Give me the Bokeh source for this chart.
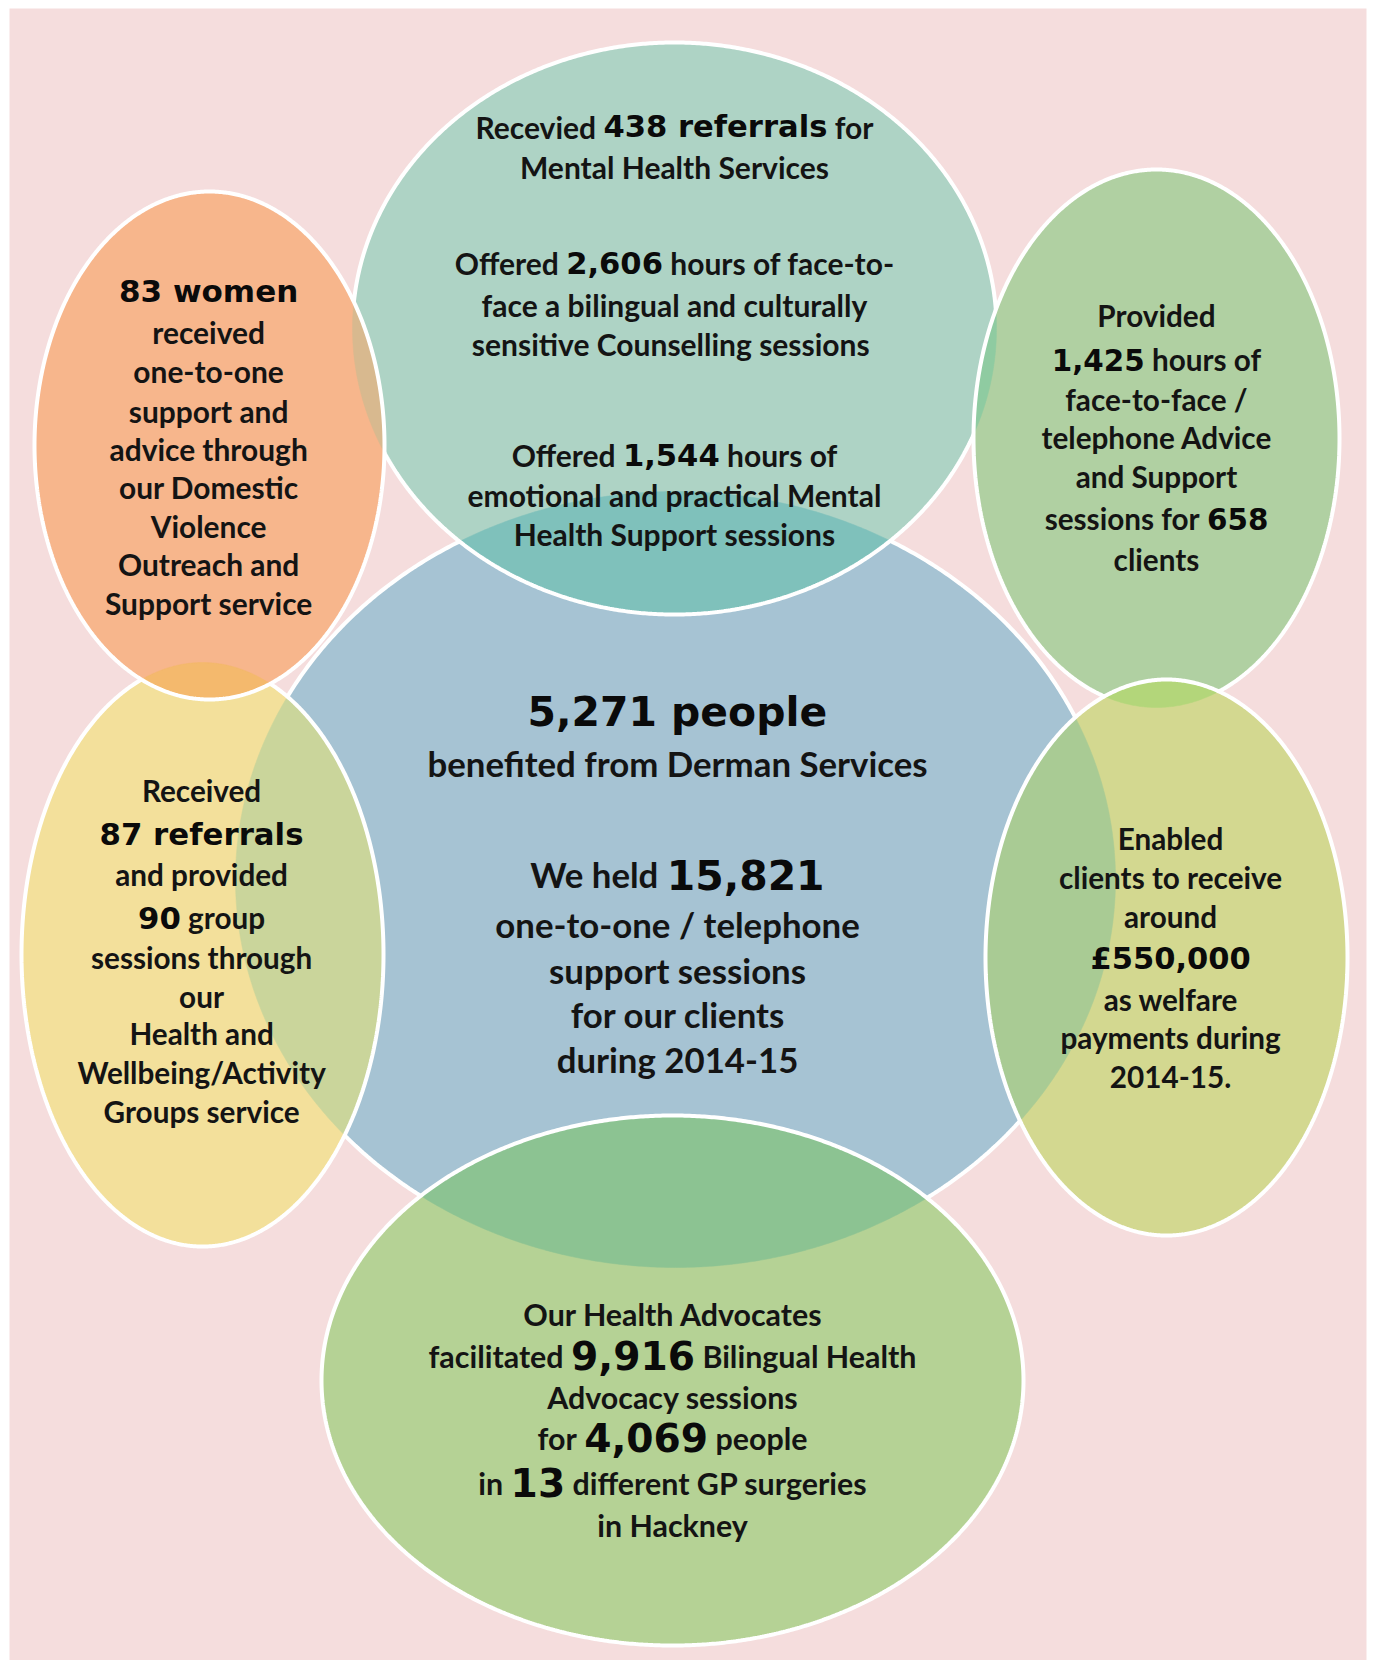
import subprocess
import numpy as np
from bokeh.plotting import figure
from bokeh.models import ColumnDataSource, Range1d
from bokeh.core.properties import value
from bokeh.embed import file_html
from bokeh.resources import INLINE

# ---------------- content (texts of each bubble) ----------------
TEAL_LINES = ["Recevied **438 referrals** for", "Mental Health Services",
              "Offered **2,606** hours of face-to-", "face a bilingual and culturally",
              "sensitive Counselling  sessions", "Offered **1,544** hours of",
              "emotional and practical Mental", "Health Support sessions"]
ORANGE_LINES = ["**83 women**", "received", "one-to-one", "support and", "advice through",
                "our Domestic", "Violence", "Outreach and", "Support service"]
RTGREEN_LINES = ["Provided", "**1,425** hours of", "face-to-face /", "telephone Advice",
                 "and Support", "sessions for **658**", "clients"]
BLUE_LINES = ["**5,271 people**", "benefited from Derman Services", "We held **15,821**",
              "one-to-one / telephone", "support sessions", "for our clients", "during 2014-15"]
YELLOW_LINES = ["Received", "**87 referrals**", "and provided", "**90** group", "sessions through",
                "our", "Health and", "Wellbeing/Activity", "Groups service"]
LIME_LINES = ["Enabled", "clients to receive", "around", "**£550,000**", "as welfare",
              "payments during", "2014-15."]
BGREEN_LINES = ["Our Health Advocates", "facilitated **9,916** Bilingual Health", "Advocacy sessions",
                "for **4,069** people", "in **13** different GP surgeries", "in Hackney"]

# ---------------- layout ----------------
W, H = 1375, 1660
X0, X1, Y0, Y1 = 0, W, 0, H
BG_PINK = "#f5dddd"

# ellipses: name -> (cx, cy, rx, ry, colour) in page pixels
ELL = {
    "blue":    (675, 879, 440, 388, "#a6c3d3"),
    "teal":    (674, 328, 322, 286, "#aed3c5"),
    "rtgreen": (1156, 438, 183, 269, "#b0d0a2"),
    "yellow":  (202, 954, 181, 292, "#f3e09b"),
    "orange":  (209, 445, 175, 254, "#f7b68c"),
    "lime":    (1166, 957, 181, 278, "#d3d890"),
    "bgreen":  (672, 1380, 351, 265, "#b5d295"),
}
ORDER = ["blue", "teal", "rtgreen", "yellow", "orange", "lime", "bgreen"]
OVERLAPS = {  # upper -> list of (lower, colour)
    "teal": [("blue", "#7fc1bb")],
    "rtgreen": [("teal", "#8fcba1")],
    "yellow": [("blue", "#cad59b")],
    "orange": [("teal", "#d8b98f"), ("yellow", "#f4b96d")],
    "lime": [("blue", "#a9cb94"), ("rtgreen", "#b3d67a")],
    "bgreen": [("blue", "#8cc392")],
}

# text blocks: lines, centre x, line y's, body ref (text,width), heavy ref (text,width)
BLOCKS = [
    (TEAL_LINES, 674, [126, 166, 262, 304, 343, 454, 494, 533],
     ("emotional and practical Mental", 414), ("438 referrals", 224)),
    (ORANGE_LINES, 208, [290, 331, 370, 410, 448, 486, 525, 563, 602],
     ("advice through", 198), ("83 women", 179)),
    (RTGREEN_LINES, 1156, [315, 359, 399, 437, 476, 518, 559],
     ("telephone Advice", 230), ("1,425", 93)),
    (BLUE_LINES, 677, [711, 763, 874, 924, 970, 1014, 1059],
     ("benefited from Derman Services", 500), ("5,271 people", 300)),
    (YELLOW_LINES, 201, [790, 833, 874, 917, 957, 996, 1033, 1072, 1111],
     ("Wellbeing/Activity", 248), ("87 referrals", 204)),
    (LIME_LINES, 1170, [838, 877, 916, 958, 999, 1037, 1076],
     ("clients to receive", 223), ("£550,000", 160)),
    (BGREEN_LINES, 672, [1313, 1355, 1396, 1437, 1482, 1524],
     ("in 13 different GP surgeries", 369), ("9,916", 124)),
]

BODY_FONT = "Lato"
HEAVY_FONT = "DejaVu Sans"

# ---------------- text measuring ----------------
_fonts = {}


def _font(family):
    if family in _fonts:
        return _fonts[family]
    f = None
    try:
        from PIL import ImageFont
        path = subprocess.run(["fc-match", "-f", "%{file}", family + ":bold"],
                              capture_output=True, text=True, timeout=10).stdout.strip()
        if path:
            f = ImageFont.truetype(path, 100)
    except Exception:
        f = None
    _fonts[family] = f
    return f


def tw(text, family, size):
    f = _font(family)
    if f is None:
        k = 0.55 if family == BODY_FONT else 0.68
        return k * size * len(text)
    return f.getlength(text) * size / 100.0


# ---------------- figure ----------------
p = figure(width=W, height=H, output_backend="svg", toolbar_location=None,
           x_range=Range1d(X0, X1), y_range=Range1d(Y1, Y0), min_border=0)
p.axis.visible = False
p.grid.visible = False
p.outline_line_color = None
p.background_fill_color = "white"
p.border_fill_color = "white"

p.quad(left=[9], right=[1366], top=[8], bottom=[1700], fill_color=BG_PINK, line_color=None)


def ell_pts(name, n=900):
    cx, cy, rx, ry, _ = ELL[name]
    t = np.linspace(0, 2 * np.pi, n, endpoint=False)
    return cx + rx * np.cos(t), cy + ry * np.sin(t)


def inside(x, y, name):
    cx, cy, rx, ry, _ = ELL[name]
    return ((x - cx) / rx) ** 2 + ((y - cy) / ry) ** 2 <= 1.0


def intersection(a, b):
    xa, ya = ell_pts(a)
    xb, yb = ell_pts(b)
    ma = inside(xa, ya, b)
    mb = inside(xb, yb, a)
    xs = np.concatenate([xa[ma], xb[mb]])
    ys = np.concatenate([ya[ma], yb[mb]])
    if len(xs) < 3:
        return None
    cx, cy = xs.mean(), ys.mean()
    order = np.argsort(np.arctan2(ys - cy, xs - cx))
    return xs[order], ys[order]


for name in ORDER:
    xs, ys = ell_pts(name)
    col = ELL[name][4]
    p.patch(list(xs), list(ys), fill_color=col, line_color=None)
    for lower, ocol in OVERLAPS.get(name, []):
        r = intersection(name, lower)
        if r is not None:
            p.patch(list(r[0]), list(r[1]), fill_color=ocol, line_color=ocol, line_width=0.5)
    p.patch(list(xs), list(ys), fill_color=None, line_color="white", line_width=4)

# ---------------- texts ----------------
body = dict(x=[], y=[], text=[], fs=[])
heavy = dict(x=[], y=[], text=[], fs=[])

for lines, cx, ys, (bref, bw), (href, hw) in BLOCKS:
    bs = bw / tw(bref, BODY_FONT, 1.0)
    hs = hw / tw(href, HEAVY_FONT, 1.0)
    gap = tw(" ", BODY_FONT, bs)
    for line, y in zip(lines, ys):
        parts = line.split("**")
        segs = []
        for i, part in enumerate(parts):
            part = part.strip()
            if not part:
                continue
            segs.append((part, i % 2 == 1))
        widths = [tw(t, HEAVY_FONT if hv else BODY_FONT, hs if hv else bs) for t, hv in segs]
        total = sum(widths) + gap * (len(segs) - 1)
        x = cx - total / 2.0
        for (t, hv), w in zip(segs, widths):
            d = heavy if hv else body
            d["x"].append(x)
            d["y"].append(y)
            d["text"].append(t)
            d["fs"].append("%.1fpx" % (hs if hv else bs))
            x += w + gap

p.text(x="x", y="y", text="text", source=ColumnDataSource(body), text_font=value(BODY_FONT),
       text_font_style="bold", text_font_size="fs", text_align="left", text_baseline="middle",
       text_color="#141414")
p.text(x="x", y="y", text="text", source=ColumnDataSource(heavy), text_font=value(HEAVY_FONT),
       text_font_style="bold", text_font_size="fs", text_align="left", text_baseline="middle",
       text_color="#0a0a0a")

open("out.html", "w").write(file_html(p, INLINE))
